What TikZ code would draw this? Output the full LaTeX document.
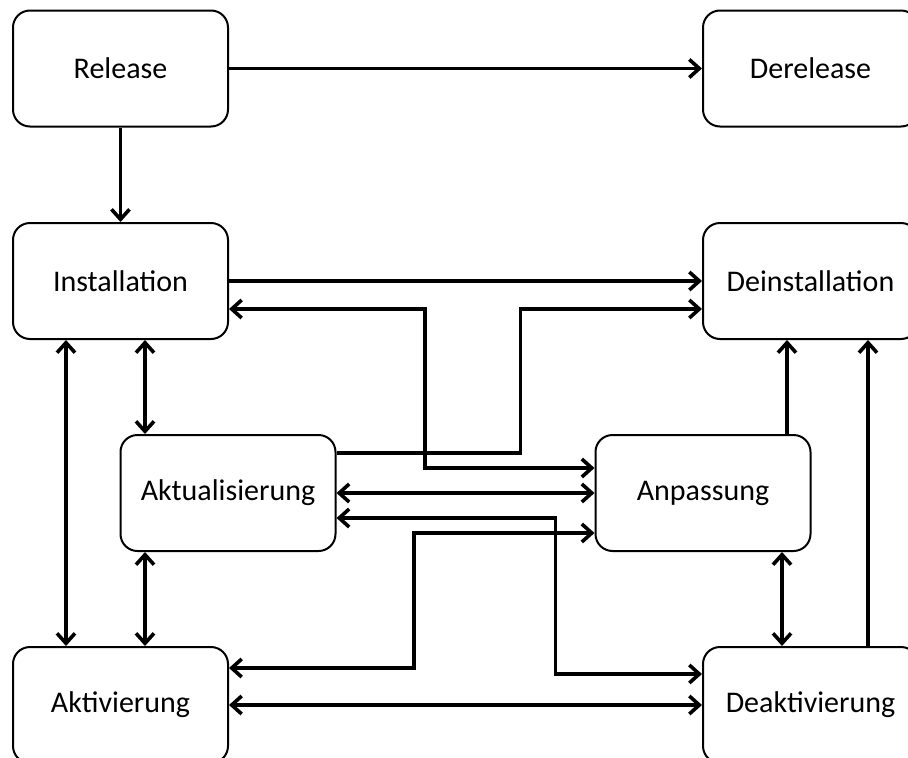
\documentclass[tikz,border=0pt]{standalone}
\usepackage{fontspec}
\setmainfont{Carlito}
\usetikzlibrary{arrows.meta}
\tikzset{
  box/.style={draw, line width=2pt, rounded corners=17pt, minimum width=215pt,
    minimum height=116pt, inner sep=0pt, font=\fontsize{30}{34}\selectfont},
  tip/.style={Straight Barb[length=10pt,width=18pt]},
  conn/.style={line width=3.6pt, -{Straight Barb[length=10pt,width=18pt]}},
  both/.style={line width=3.6pt, {Straight Barb[length=10pt,width=18pt]}-{Straight Barb[length=10pt,width=18pt]}}
}
\begin{document}
\begin{tikzpicture}[x=1pt, y=-1pt]
\useasboundingbox (0,0) rectangle (908,758);
\clip (0,0) rectangle (908,758);

% state boxes
\node[box] (rel)    at (120.5,68.5) {Release};
\node[box] (derel)  at (810.5,68.5) {Derelease};
\node[box] (inst)   at (120.5,281)  {Installation};
\node[box] (deinst) at (810.5,281)  {Deinstallation};
\node[box] (aktu)   at (228,493)    {Aktualisierung};
\node[box] (anp)    at (703,493)    {Anpassung};
\node[box] (akti)   at (120.5,705)  {Aktivierung};
\node[box] (deakt)  at (810.5,705)  {Deaktivierung};

% straight transitions
\draw[conn] (rel.east) -- (derel.west);
\draw[conn] (rel.south) -- (inst.north);
\draw[conn] (inst.east) -- (deinst.west);
\draw[both] (aktu.east) -- (anp.west);
\draw[both] (akti.east) -- (deakt.west);

% vertical transitions
\draw[both] ([xshift=-54.5pt]inst.south) -- ([xshift=-54.5pt]akti.north);
\draw[both] ([xshift=24.5pt]inst.south) -- ([xshift=-83pt]aktu.north);
\draw[both] ([xshift=-83pt]aktu.south) -- ([xshift=24.5pt]akti.north);
\draw[conn] ([xshift=84pt]anp.north) -- ([xshift=-23.5pt]deinst.south);
\draw[conn] ([xshift=57.5pt]deakt.north) -- ([xshift=57.5pt]deinst.south);
\draw[both] ([xshift=79pt]anp.south) -- ([xshift=-28.5pt]deakt.north);

% routed transitions
\draw[both] ([yshift=-28pt]inst.east) -- ++(196,0) |- ([yshift=25pt]anp.west);
\draw[conn] ([yshift=40pt]aktu.east) -- ++(184,0) |- ([yshift=-28pt]deinst.west);
\draw[both] ([yshift=-25pt]aktu.east) -- ++(219,0) |- ([yshift=31pt]deakt.west);
\draw[both] ([yshift=37pt]akti.east) -- ++(185,0) |- ([yshift=-40pt]anp.west);
\end{tikzpicture}
\end{document}
